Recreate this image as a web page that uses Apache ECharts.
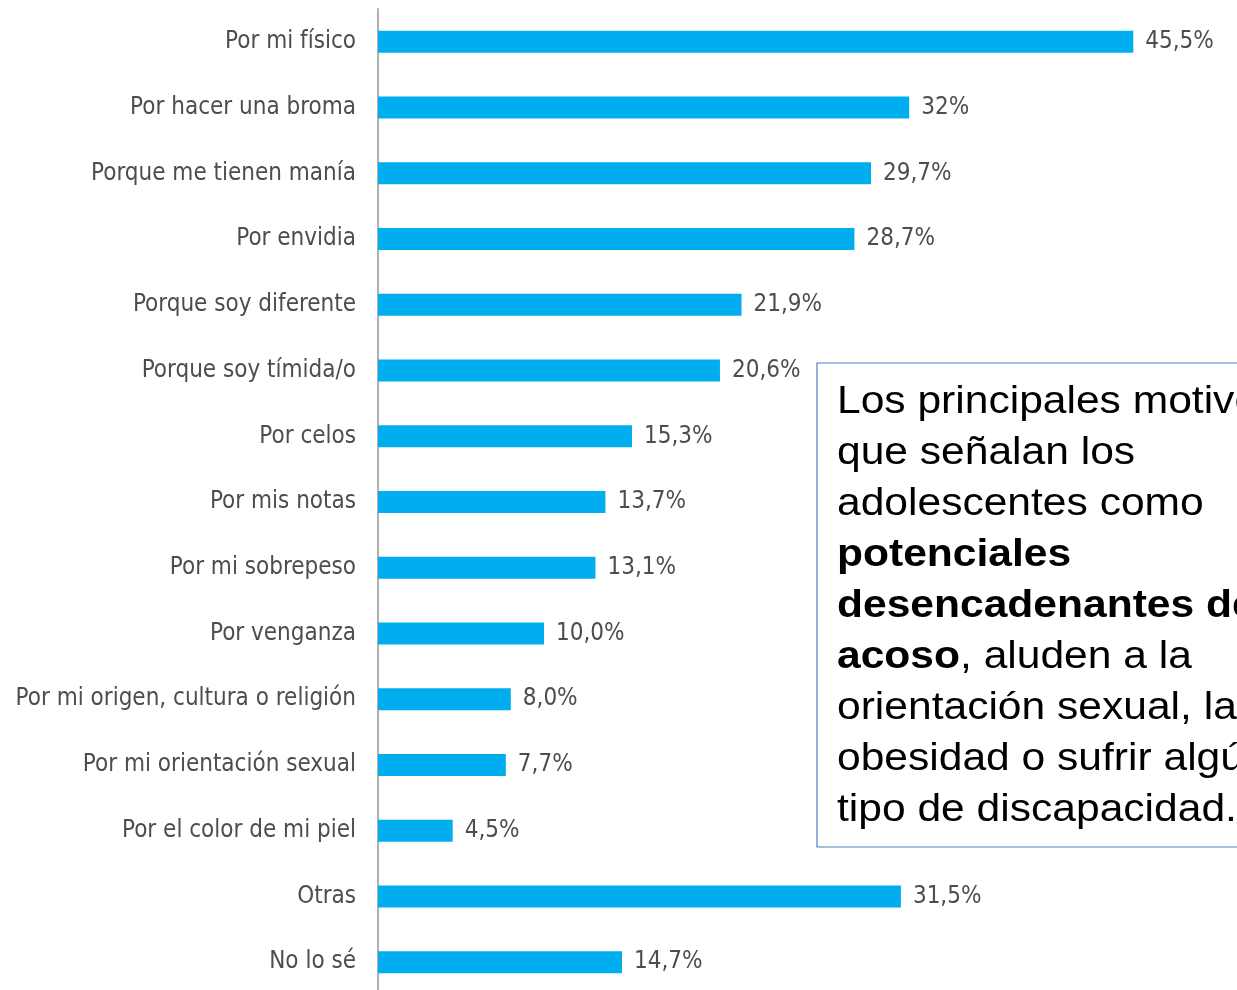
<!DOCTYPE html>
<html>
<head>
<meta charset="utf-8">
<script src="https://cdn.jsdelivr.net/npm/echarts@6/dist/echarts.min.js"></script>
<style>
	html, body { margin: 0; padding: 0; background: #fff; }
	#chart { width: 1237px; height: 990px; }
</style>
</head>
<body>
<div id="chart"></div>
<script>
// motivos, de arriba abajo
const categories = [
	'Por mi físico', 'Por hacer una broma', 'Porque me tienen manía', 'Por envidia',
	'Porque soy diferente', 'Porque soy tímida/o', 'Por celos', 'Por mis notas',
	'Por mi sobrepeso', 'Por venganza', 'Por mi origen, cultura o religión',
	'Por mi orientación sexual', 'Por el color de mi piel', 'Otras', 'No lo sé'
]
const values = [45.5, 32, 29.7, 28.7, 21.9, 20.6, 15.3, 13.7, 13.1, 10.0, 8.0, 7.7, 4.5, 31.5, 14.7]
const valueLabels = ['45,5%', '32%', '29,7%', '28,7%', '21,9%', '20,6%', '15,3%', '13,7%',
	'13,1%', '10,0%', '8,0%', '7,7%', '4,5%', '31,5%', '14,7%']

// texto del recuadro
const noteLines = [
	'Los principales motivos',
	'que señalan los',
	'adolescentes como',
	'{b|potenciales}',
	'{b|desencadenantes de}',
	'{b|acoso}, aluden a la',
	'orientación sexual, la',
	'obesidad o sufrir algún',
	'tipo de discapacidad.'
]

const narrow = '"Liberation Sans Narrow", "DejaVu Sans Condensed", sans-serif'
const chart = echarts.init(document.getElementById('chart'))

const option = {
	animation: false,
	grid: { left: 378, top: 9, width: 830, height: 986, containLabel: false, outerBoundsMode: 'none' },
	xAxis: { type: 'value', min: 0, max: 50, show: false },
	yAxis: {
		type: 'category',
		data: categories,
		inverse: true,
		axisLine: { show: true, lineStyle: { color: '#b0b0b0', width: 2 } },
		axisTick: { show: false },
		axisLabel: { margin: 22, fontFamily: narrow, fontSize: 24, color: '#4d4d4d', padding: [4, 0, 0, 0] },
		splitLine: { show: false }
	},
	series: [{
		type: 'bar',
		data: values,
		barWidth: 22,
		itemStyle: { color: '#00aeef' },
		label: {
			show: true,
			position: 'right',
			distance: 12,
			fontFamily: narrow,
			fontSize: 24,
			color: '#4d4d4d',
			padding: [4, 0, 0, 0],
			formatter: p => valueLabels[p.dataIndex]
		}
	}],
	graphic: [
		{
			type: 'rect',
			x: 817, y: 363,
			shape: { width: 500, height: 484 },
			style: { fill: '#fff', stroke: '#4f7ec1', lineWidth: 1.2 },
			z: 10
		},
		{
			type: 'text',
			x: 837, y: 377,
			scaleX: 1.12,
			z: 11,
			style: {
				text: noteLines.join('\n'),
				fontFamily: '"Liberation Sans", Arial, sans-serif',
				fontSize: 38,
				lineHeight: 51,
				fill: '#000',
				rich: {
					b: { fontFamily: '"Liberation Sans", Arial, sans-serif', fontSize: 38, lineHeight: 51, fontWeight: 'bold', fill: '#000' }
				}
			}
		}
	]
}

chart.setOption(option)
</script>
</body>
</html>
